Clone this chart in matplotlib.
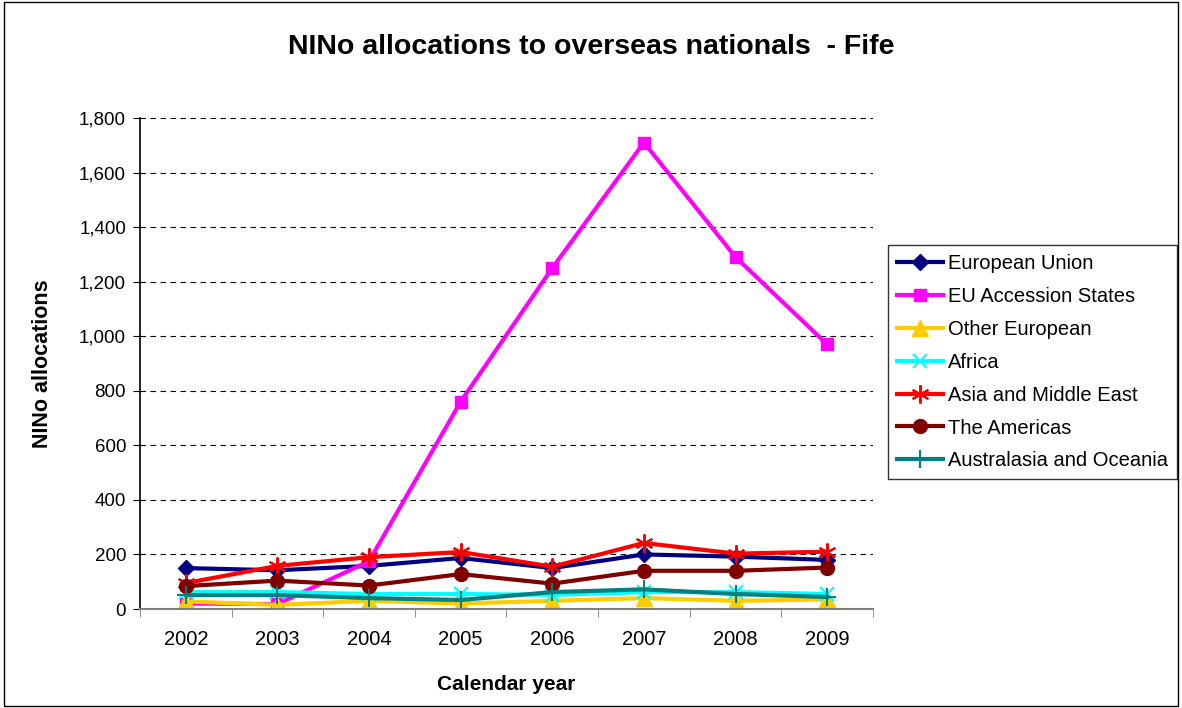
import matplotlib.pyplot as plt
from matplotlib.ticker import FuncFormatter, MultipleLocator
from matplotlib.patches import Rectangle

years = [2002, 2003, 2004, 2005, 2006, 2007, 2008, 2009]
eu = [150, 142, 158, 187, 150, 200, 192, 180]
accession = [20, 18, 175, 760, 1250, 1710, 1290, 970]
other_eu = [28, 15, 30, 20, 30, 40, 30, 35]
africa = [62, 62, 55, 55, 52, 62, 62, 55]
asia = [95, 158, 190, 209, 155, 242, 203, 210]
americas = [84, 104, 86, 128, 93, 140, 140, 152]
australasia = [51, 51, 40, 33, 62, 72, 55, 44]

series = [
    ('European Union', eu, '#000080', 'D', 8),
    ('EU Accession States', accession, '#FF00FF', 's', 8),
    ('Other European', other_eu, '#FFCC00', '^', 11),
    ('Africa', africa, '#00FFFF', 'x', 10),
    ('Asia and Middle East', asia, '#FF0000', (6, 2, 0), 13),
    ('The Americas', americas, '#800000', 'o', 10),
    ('Australasia and Oceania', australasia, '#008080', '+', 13),
]

plt.rcParams['font.family'] = ['Liberation Sans', 'DejaVu Sans']
fig = plt.figure(figsize=(11.82, 7.08), dpi=100)
fig.patches.append(Rectangle((0.003, 0.003), 0.994, 0.994, transform=fig.transFigure,
                             fill=False, edgecolor='black', linewidth=1))
ax = fig.add_axes([140/1182, 1 - 609/708, (873-140)/1182, (609-118)/708])

x = list(range(len(years)))
for name, vals, col, mk, ms in series:
    ax.plot(x, vals, color=col, marker=mk, markersize=ms, linewidth=3,
            markeredgewidth=1.5 if mk in ('x', '+') or isinstance(mk, tuple) else 1,
            markeredgecolor=col, label=name)

ax.set_xlim(-0.5, len(years) - 0.5)
ax.set_ylim(0, 1800)
ax.yaxis.set_major_locator(MultipleLocator(200))
ax.yaxis.set_major_formatter(FuncFormatter(lambda v, p: f'{int(v):,}'))
ax.set_xticks(x)
ax.set_xticklabels(years)
ax.set_xticks([i - 0.5 for i in range(len(years) + 1)], minor=True)
ax.tick_params(axis='x', which='major', length=0, labelsize=14.5, pad=15)
ax.tick_params(axis='x', which='minor', length=6, color='#808080')
ax.tick_params(axis='y', labelsize=13.5, length=5, pad=5)
ax.grid(axis='y', color='black', linestyle=(0, (5, 4)), linewidth=0.8)
ax.set_axisbelow(True)
for s in ('top', 'right'):
    ax.spines[s].set_visible(False)
ax.spines['bottom'].set_color('#808080')
ax.spines['bottom'].set_linewidth(1.5)
ax.spines['left'].set_linewidth(1.2)

ax.set_xlabel('Calendar year', fontsize=15, fontweight='bold', labelpad=19)
ax.set_ylabel('NINo allocations', fontsize=15.5, fontweight='bold', labelpad=19)
fig.text(0.5, 1 - 47/708, 'NINo allocations to overseas nationals  - Fife', ha='center',
         va='center', fontsize=20.5, fontweight='bold')

leg = fig.legend(loc='upper left', bbox_to_anchor=(888/1182, 1 - 245/708), fontsize=14.5,
                 frameon=True, fancybox=False, edgecolor='black', borderpad=0.45,
                 labelspacing=0.69, handlelength=2.3, handletextpad=0.25, borderaxespad=0)
leg.get_frame().set_linewidth(1)

fig.savefig('out.png', dpi=100)
